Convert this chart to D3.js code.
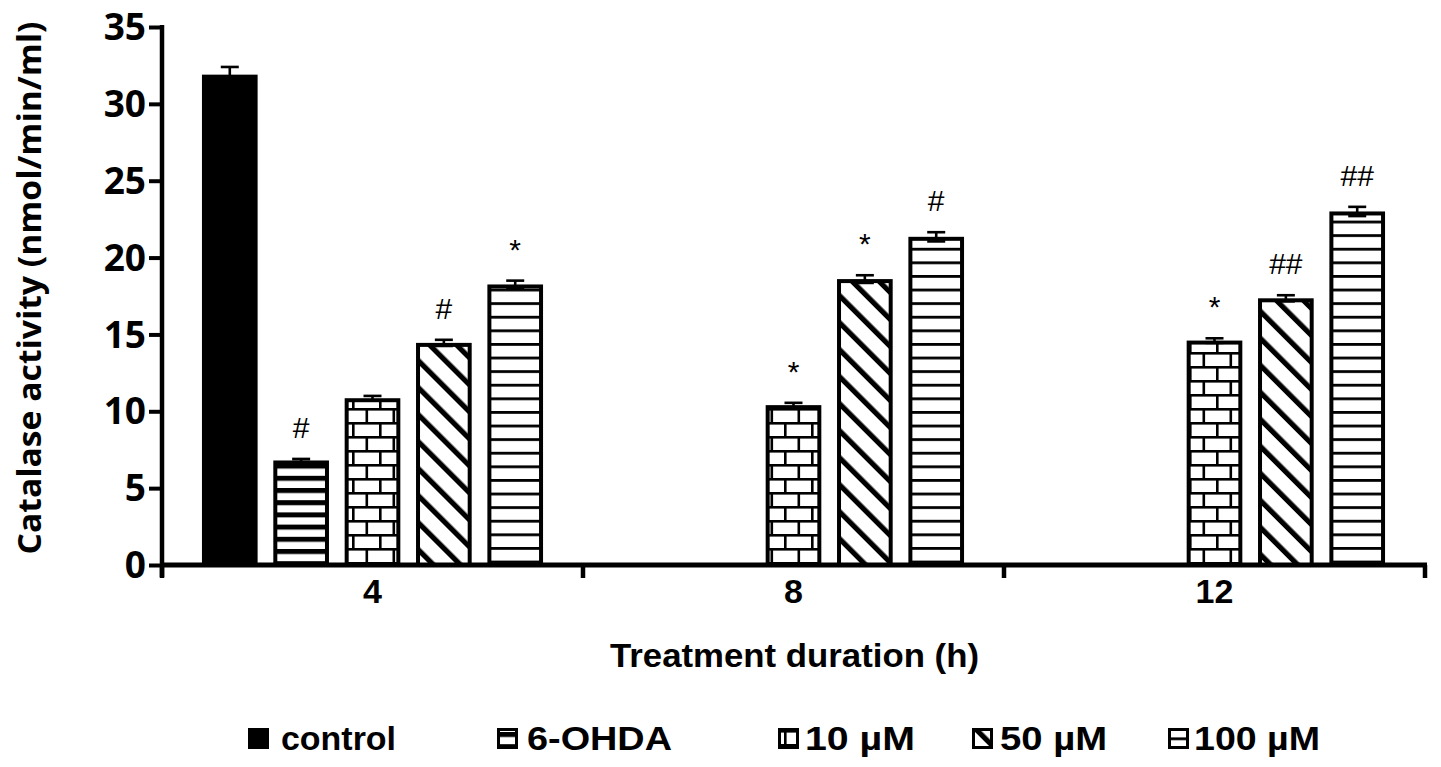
<!DOCTYPE html>
<html>
<head>
<meta charset="utf-8">
<script src="https://cdn.jsdelivr.net/npm/d3@7"></script>
<style>
  html, body { margin: 0; padding: 0; background: #fff; }
  svg { display: block; }
</style>
</head>
<body>
<svg id="chart" width="1441" height="767"></svg>
<script>
// ---------------- data ----------------
const groups = ["4", "8", "12"];
const seriesNames = ["control", "6-OHDA", "10 µM", "50 µM", "100 µM"];
const controlValues = [31.9, null, null];
const ohdaValues    = [6.8, null, null];
const uM10Values    = [10.85, 10.4, 14.6];
const uM50Values    = [14.45, 18.6, 17.35];
const uM100Values   = [18.25, 21.35, 23.0];
const controlErr = [0.5, null, null];
const ohdaErr    = [0.1, null, null];
const uM10Err    = [0.15, 0.15, 0.15];
const uM50Err    = [0.2, 0.25, 0.2];
const uM100Err   = [0.25, 0.3, 0.3];
const controlSig = ["", "", ""];
const ohdaSig    = ["#", "", ""];
const uM10Sig    = ["", "*", "*"];
const uM50Sig    = ["#", "*", "##"];
const uM100Sig   = ["*", "#", "##"];
const yTicks = [0, 5, 10, 15, 20, 25, 30, 35];
const yTitle = "Catalase activity (nmol/min/ml)";
const xTitle = "Treatment duration (h)";

const seriesValues = [controlValues, ohdaValues, uM10Values, uM50Values, uM100Values];
const seriesErrs   = [controlErr, ohdaErr, uM10Err, uM50Err, uM100Err];
const seriesSigs   = [controlSig, ohdaSig, uM10Sig, uM50Sig, uM100Sig];
const seriesFill   = ["#000", "url(#pOhda)", "url(#pBrick)", "url(#pDiag)", "url(#pLines)"];

// ---------------- layout ----------------
const svg = d3.select("#chart");
const plotLeft = 162, plotRight = 1425, plotTop = 27, plotBottom = 565;

const y = d3.scaleLinear().domain([0, 35]).range([plotBottom, plotTop]);
const x0 = d3.scaleBand().domain(groups).range([plotLeft, plotRight]).paddingInner(0).paddingOuter(0);
const x1 = d3.scaleBand().domain(seriesNames).range([0, x0.bandwidth()]).paddingInner(0.22).paddingOuter(0.56);

// ---------------- patterns ----------------
const defs = svg.append("defs");
// 6-OHDA: thick horizontal stripes
const p1 = defs.append("pattern").attr("id", "pOhda").attr("patternUnits", "userSpaceOnUse")
  .attr("width", 12).attr("height", 12.2);
p1.append("rect").attr("width", 12).attr("height", 12.2).attr("fill", "#fff");
p1.append("rect").attr("y", 0).attr("width", 12).attr("height", 5).attr("fill", "#000");

// 100 µM: thin horizontal lines
const p4 = defs.append("pattern").attr("id", "pLines").attr("patternUnits", "userSpaceOnUse")
  .attr("width", 12).attr("height", 13.6).attr("y", 3);
p4.append("rect").attr("width", 12).attr("height", 13.6).attr("fill", "#fff");
p4.append("rect").attr("y", 0).attr("width", 12).attr("height", 2.8).attr("fill", "#000");

// 10 µM: brick
const p2 = defs.append("pattern").attr("id", "pBrick").attr("patternUnits", "userSpaceOnUse")
  .attr("width", 27).attr("height", 28).attr("x", 1).attr("y", 2);
p2.append("rect").attr("width", 27).attr("height", 28).attr("fill", "#fff");
p2.append("rect").attr("y", 0).attr("width", 27).attr("height", 2.6).attr("fill", "#000");
p2.append("rect").attr("y", 14).attr("width", 27).attr("height", 2.6).attr("fill", "#000");
p2.append("rect").attr("x", 0).attr("y", 0).attr("width", 2.6).attr("height", 14).attr("fill", "#000");
p2.append("rect").attr("x", 13.5).attr("y", 14).attr("width", 2.6).attr("height", 14).attr("fill", "#000");

// 50 µM: diagonal "\" stripes
const p3 = defs.append("pattern").attr("id", "pDiag").attr("patternUnits", "userSpaceOnUse")
  .attr("width", 19.1).attr("height", 10).attr("patternTransform", "rotate(-45)");
p3.append("rect").attr("width", 19.1).attr("height", 10).attr("fill", "#fff");
p3.append("rect").attr("x", 0).attr("width", 5.2).attr("height", 10).attr("fill", "#000");

// ---------------- bars ----------------
const barData = [];
seriesNames.forEach((s, si) => {
  groups.forEach((g, gi) => {
    const v = seriesValues[si][gi];
    if (v == null) return;
    barData.push({ s, si, g, v, e: seriesErrs[si][gi], sig: seriesSigs[si][gi] });
  });
});

const bw = x1.bandwidth();
const gBars = svg.append("g");
gBars.selectAll("rect.bar").data(barData).join("rect")
  .attr("class", "bar")
  .attr("x", d => x0(d.g) + x1(d.s) + 2)
  .attr("width", bw - 4)
  .attr("y", d => y(d.v) + 2)
  .attr("height", d => y(0) - y(d.v) - 2)
  .attr("fill", d => seriesFill[d.si])
  .attr("stroke", "#000")
  .attr("stroke-width", 4);

// error bars
const gErr = svg.append("g").attr("stroke", "#000").attr("stroke-width", 2.6);
barData.forEach(d => {
  const cx = x0(d.g) + x1(d.s) + bw / 2;
  gErr.append("line").attr("x1", cx).attr("x2", cx).attr("y1", y(d.v - d.e)).attr("y2", y(d.v + d.e));
  gErr.append("line").attr("x1", cx - 9).attr("x2", cx + 9).attr("y1", y(d.v + d.e)).attr("y2", y(d.v + d.e));
  gErr.append("line").attr("x1", cx - 9).attr("x2", cx + 9).attr("y1", y(d.v - d.e)).attr("y2", y(d.v - d.e));
});

// significance marks
svg.append("g").selectAll("text").data(barData.filter(d => d.sig)).join("text")
  .attr("x", d => x0(d.g) + x1(d.s) + bw / 2)
  .attr("y", d => y(d.v + d.e) - 21)
  .attr("text-anchor", "middle")
  .attr("font-family", "Liberation Sans, Arial, sans-serif")
  .attr("font-size", 30)
  .attr("fill", "#000")
  .text(d => d.sig);

// ---------------- axes ----------------
// y axis
const yAxis = svg.append("g").attr("transform", `translate(${plotLeft},0)`)
  .call(d3.axisLeft(y).tickValues(yTicks).tickSize(13).tickSizeOuter(0).tickPadding(3));
yAxis.select(".domain").remove();
yAxis.selectAll(".tick line").attr("stroke", "#000").attr("stroke-width", 4);
yAxis.selectAll(".tick text")
  .attr("font-family", "Open Sans, Lato, sans-serif")
  .attr("font-weight", "bold")
  .attr("font-size", 37)
  .attr("fill", "#000")
  .attr("dy", "0.34em");
svg.append("line").attr("x1", plotLeft).attr("x2", plotLeft).attr("y1", y(35) - 2).attr("y2", 577)
  .attr("stroke", "#000").attr("stroke-width", 4.5);

// x axis
svg.append("line").attr("x1", plotLeft - 2).attr("x2", plotRight + 2).attr("y1", y(0)).attr("y2", y(0))
  .attr("stroke", "#000").attr("stroke-width", 5);
const bounds = groups.map(g => x0(g)).concat([x0(groups[groups.length - 1]) + x0.bandwidth()]);
svg.append("g").selectAll("line").data(bounds).join("line")
  .attr("x1", d => d).attr("x2", d => d).attr("y1", y(0)).attr("y2", 578)
  .attr("stroke", "#000").attr("stroke-width", 4.5);

const xAxis = svg.append("g").attr("transform", `translate(0,${y(0)})`)
  .call(d3.axisBottom(x0).tickSize(0).tickPadding(14));
xAxis.select(".domain").remove();
xAxis.selectAll(".tick text")
  .attr("font-family", "Liberation Sans, Arial, sans-serif")
  .attr("font-weight", "bold")
  .attr("font-size", 34)
  .attr("fill", "#000")
  .attr("dy", "0.71em");

// titles
svg.append("text")
  .attr("x", (plotLeft + plotRight) / 2 + 1).attr("y", 667)
  .attr("text-anchor", "middle")
  .attr("font-family", "Liberation Sans, Arial, sans-serif")
  .attr("font-weight", "bold").attr("font-size", 34)
  .attr("textLength", 369).attr("lengthAdjust", "spacingAndGlyphs")
  .text(xTitle);

svg.append("text")
  .attr("transform", `translate(41,${(y(0) + y(35)) / 2 - 8}) rotate(-90)`)
  .attr("text-anchor", "middle")
  .attr("font-family", "Open Sans, Lato, sans-serif")
  .attr("font-weight", "bold").attr("font-size", 33)
  .attr("textLength", 533).attr("lengthAdjust", "spacingAndGlyphs")
  .text(yTitle);

// ---------------- legend ----------------
const legendSwatchX = [248, 497, 778, 972, 1168];
const legendTextX = [281, 527, 805, 1000, 1194];
const legendTextLen = [115, 145, 110, 107, 126];
const legend = svg.append("g");
seriesNames.forEach((s, i) => {
  legend.append("rect")
    .attr("x", legendSwatchX[i] + 1.5).attr("y", 729.5)
    .attr("width", 18).attr("height", 18)
    .attr("fill", seriesFill[i])
    .attr("stroke", "#000").attr("stroke-width", 3);
  legend.append("text")
    .attr("x", legendTextX[i]).attr("y", 750)
    .attr("font-family", "Liberation Sans, Arial, sans-serif")
    .attr("font-weight", "bold").attr("font-size", 34)
    .attr("textLength", legendTextLen[i]).attr("lengthAdjust", "spacingAndGlyphs")
    .text(s);
});
</script>
</body>
</html>
